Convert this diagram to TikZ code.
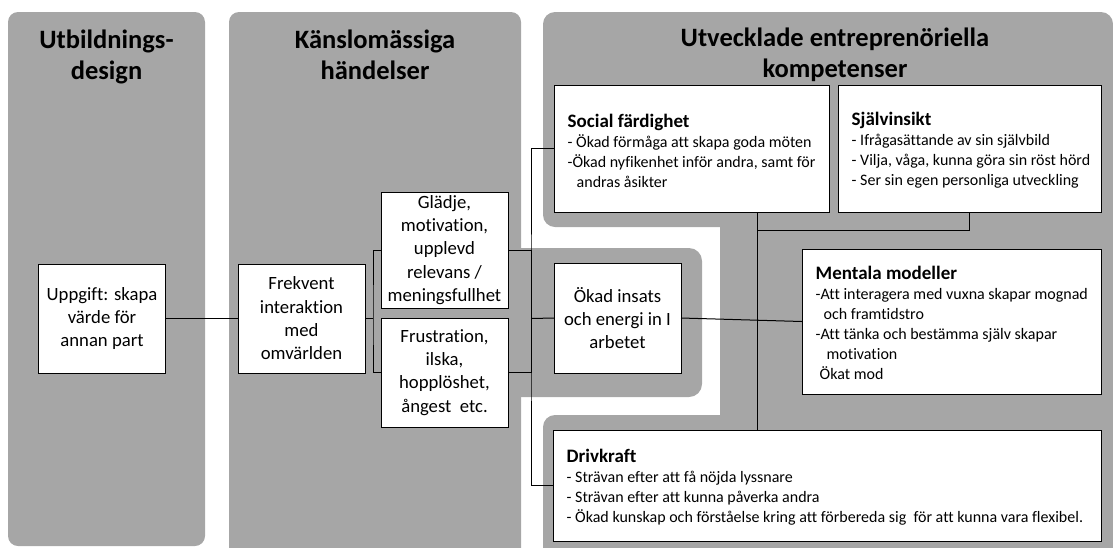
\documentclass[tikz,border=0pt]{standalone}
\usepackage{fontspec}
\setmainfont{Carlito}[Ligatures=NoCommon]
\definecolor{panelgray}{RGB}{166,166,166}
\newcommand{\dgTitle}{\fontsize{26.5}{31.5}\selectfont\bfseries}
\newcommand{\dgBox}{\fontsize{18.7}{23.3}\selectfont}
\newcommand{\dgSmall}{\fontsize{16}{20}\selectfont}
\newcommand{\dgHead}[1]{{\fontsize{19}{20}\selectfont\bfseries #1}}
\tikzset{
  panel/.style={fill=panelgray},
  box/.style={draw=black, line width=1pt, fill=white, inner sep=0pt, outer sep=0pt,
    align=center, font=\dgBox},
  infobox/.style={draw=black, line width=1pt, fill=white, inner sep=0pt, outer sep=0pt},
  infotext/.style={anchor=west, align=left, inner sep=0pt, font=\dgSmall},
  paneltitle/.style={align=center, font=\dgTitle, inner sep=0pt},
  link/.style={draw=black, line width=1pt}
}
\begin{document}
\begin{tikzpicture}[x=1pt, y=-1pt]
\useasboundingbox (0,0) rectangle (1113,547);
\clip (0,0) rectangle (1113,547);

% column backgrounds
\fill[panel, rounded corners=10pt] (8,12) rectangle (205,546);
\fill[panel, rounded corners=10pt] (229,12) rectangle (521,570);
\fill[panel, rounded corners=13pt] (505,248) rectangle (702,397);
\fill[panel, rounded corners=12pt] (543,12) rectangle (1113,227);
\fill[panel] (720,200) rectangle (1113,440);
\fill[panel, rounded corners=12pt] (543,415) rectangle (1113,580);

% column headings
\node[paneltitle] (t1) at (106.5,57) {Utbildnings-\\design};
\node[paneltitle] (t2) at (375,55) {Känslomässiga\\händelser};
\node[paneltitle] (t3) at (835,55) {Utvecklade entreprenöriella\\kompetenser};

% flow boxes
\node[box, minimum width=127pt, minimum height=109pt] (upp) at (102,318.5)
  {Uppgift: skapa\\värde för\\annan part};
\node[box, minimum width=127pt, minimum height=109pt] (frek) at (301.5,318.5)
  {Frekvent\\interaktion\\med\\omvärlden};
\node[box, minimum width=127pt, minimum height=116pt] (glad) at (444.5,250)
  {Glädje,\\motivation,\\upplevd\\relevans /\\meningsfullhet};
\node[box, minimum width=127pt, minimum height=109pt] (frus) at (444.5,372.5)
  {Frustration,\\ilska,\\hopplöshet,\\ångest~ etc.};
\node[box, minimum width=127pt, minimum height=110pt] (okad) at (617.5,318)
  {Ökad insats\\och energi in I\\arbetet};

% competence boxes
\node[infobox, minimum width=275pt, minimum height=127pt] (social) at (691.5,148.5) {};
\node[infobox, minimum width=263pt, minimum height=127pt] (sjalv) at (969.5,148.5) {};
\node[infobox, minimum width=299pt, minimum height=145pt] (ment) at (951.5,321.5) {};
\node[infobox, minimum width=548pt, minimum height=111pt] (driv) at (827,485.5) {};

\node[infotext] (socialtxt) at ([xshift=13.5pt,yshift=-2pt]social.west)
  {\dgHead{Social färdighet}\\- Ökad förmåga att skapa goda möten\\-Ökad nyfikenhet inför andra, samt för\\\hspace*{9pt}andras åsikter};
\node[infotext] (sjalvtxt) at ([xshift=13.5pt,yshift=-2pt]sjalv.west)
  {\dgHead{Självinsikt}\\- Ifrågasättande av sin självbild\\- Vilja, våga, kunna göra sin röst hörd\\- Ser sin egen personliga utveckling};
\node[infotext] (menttxt) at ([xshift=13.5pt,yshift=-1pt]ment.west)
  {\dgHead{Mentala modeller}\\-Att interagera med vuxna skapar mognad\\\hspace*{8pt}och framtidstro\\-Att tänka och bestämma själv skapar\\\hspace*{11pt}motivation\\\hspace*{4pt}Ökat mod};
\node[infotext] (drivtxt) at ([xshift=13.5pt,yshift=-2pt]driv.west)
  {\dgHead{Drivkraft}\\- Strävan efter att få nöjda lyssnare\\- Strävan efter att kunna påverka andra\\- Ökad kunskap och förståelse kring att förbereda sig~ för att kunna vara flexibel.};

% junction points
\coordinate (fork) at (373,318.5);
\coordinate (spine) at (531,318.5);
\coordinate (rspine) at (757,318.5);
\coordinate (join) at (757,230);

% connectors
\draw[link] (upp.east) -- (frek.west);
\draw[link] (frek.east) -- (fork);
\draw[link] (glad.west) -| (fork) |- (frus.west);
\draw[link] (glad.east) -| (spine);
\draw[link] (frus.east) -| (spine);
\draw[link] (social.west) -| (spine) |- (driv.west);
\draw[link] (spine) -- (okad.west);
\draw[link] (okad.east) -- (ment.west);
\draw[link] (social.south -| rspine) -- (driv.north -| rspine);
\draw[link] (sjalv.south) |- (join);
\end{tikzpicture}
\end{document}
